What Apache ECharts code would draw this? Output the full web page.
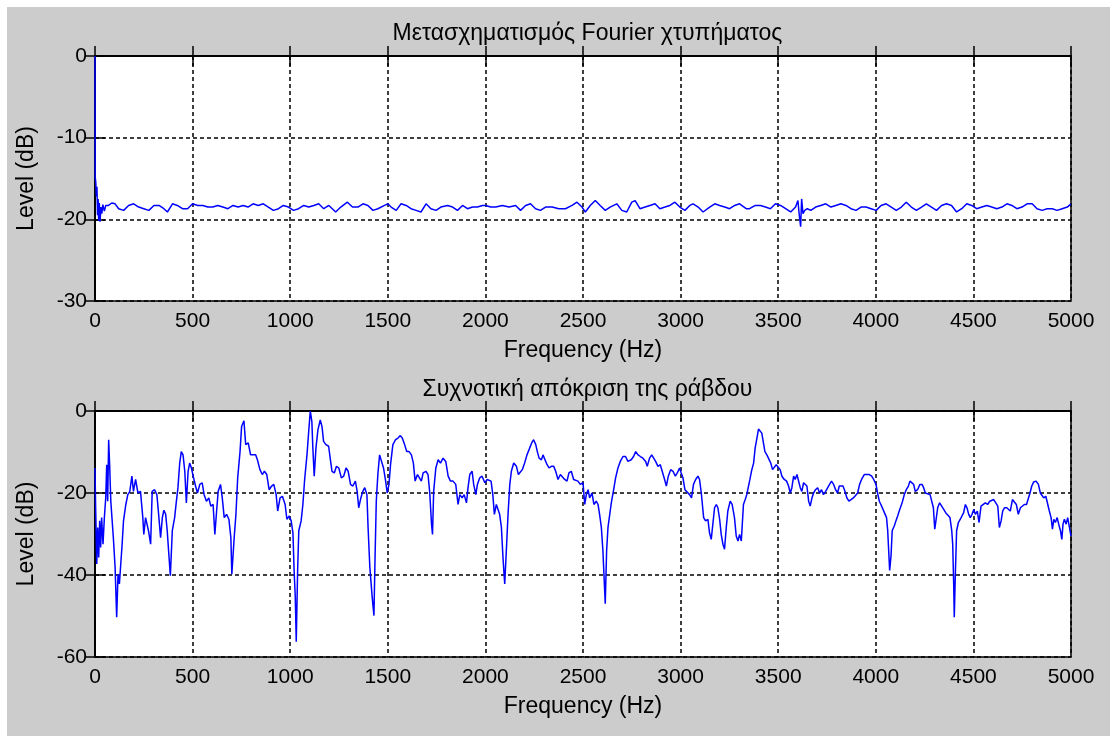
<!DOCTYPE html>
<html>
<head>
<meta charset="utf-8">
<title>Fourier</title>
<script src="https://cdn.jsdelivr.net/npm/echarts@6/dist/echarts.min.js"></script>
<style>
  html, body { margin: 0; padding: 0; background: #fff; }
  #main { position: absolute; left: 7px; top: 7px; width: 1103px; height: 729px; background: #cccccc; }
</style>
</head>
<body>
<div id="main"></div>
<script>
// Μετασχηματισμός Fourier χτυπήματος (πάνω γράφημα)
var topFreq = [
  0, 1, 4, 7, 10, 13, 16, 19, 22, 26,
  30, 35, 40, 48, 55, 69, 86, 103, 121, 147,
  172, 198, 224, 250, 276, 302, 328, 353, 371, 397,
  422, 448, 474, 500, 526, 552, 578, 603, 629, 655,
  681, 707, 733, 759, 784, 810, 836, 862, 888, 914,
  940, 965, 991, 1017, 1043, 1069, 1095, 1121, 1146, 1172,
  1198, 1233, 1259, 1293, 1319, 1347, 1373, 1398, 1424, 1449,
  1483, 1500, 1517, 1543, 1568, 1594, 1619, 1645, 1670, 1696,
  1721, 1747, 1772, 1806, 1832, 1857, 1883, 1908, 1934, 1959,
  1985, 2002, 2027, 2053, 2087, 2121, 2155, 2180, 2206, 2231,
  2257, 2282, 2308, 2342, 2376, 2410, 2444, 2469, 2495, 2512,
  2537, 2563, 2588, 2614, 2639, 2673, 2699, 2724, 2750, 2767,
  2792, 2818, 2843, 2869, 2894, 2920, 2945, 2971, 2996, 3022,
  3047, 3064, 3090, 3115, 3149, 3175, 3200, 3226, 3251, 3277,
  3302, 3336, 3353, 3383, 3409, 3435, 3460, 3486, 3512, 3538,
  3564, 3589, 3601, 3608, 3615, 3620, 3627, 3636, 3649, 3667,
  3692, 3718, 3744, 3770, 3795, 3821, 3847, 3873, 3899, 3924,
  3950, 3976, 4002, 4027, 4053, 4079, 4105, 4131, 4156, 4182,
  4208, 4234, 4259, 4285, 4311, 4337, 4362, 4388, 4414, 4440,
  4466, 4491, 4517, 4543, 4569, 4594, 4620, 4646, 4672, 4697,
  4723, 4749, 4775, 4801, 4826, 4852, 4878, 4904, 4929, 4955,
  4981, 5000
]
var topLevel = [
  0, -14.8, -15.5, -17.2, -16.0, -19.5, -17.5, -20.2, -18.0, -20.3,
  -18.5, -19.3, -18.2, -19.0, -18.3, -18.3, -18.0, -18.1, -18.7, -18.9,
  -18.3, -18.1, -18.5, -18.7, -18.9, -18.3, -18.3, -18.7, -19.1, -18.1,
  -18.3, -18.7, -18.7, -18.1, -18.3, -18.3, -18.5, -18.5, -18.3, -18.5,
  -18.7, -18.3, -18.5, -18.3, -18.5, -18.1, -18.3, -18.1, -18.5, -18.9,
  -18.7, -18.3, -18.5, -18.9, -18.7, -18.3, -18.5, -18.3, -18.1, -18.7,
  -18.3, -19.1, -18.5, -17.9, -18.5, -18.5, -18.1, -18.3, -18.9, -18.7,
  -18.3, -18.1, -18.5, -18.9, -18.1, -18.3, -18.7, -18.9, -19.1, -18.1,
  -18.7, -18.9, -18.5, -18.3, -18.5, -18.9, -18.3, -18.7, -18.5, -18.5,
  -18.3, -18.3, -18.5, -18.5, -18.3, -18.5, -18.3, -18.9, -18.3, -18.1,
  -18.7, -18.9, -18.5, -18.5, -18.7, -18.7, -18.3, -17.9, -18.5, -19.1,
  -18.3, -17.7, -18.3, -18.9, -18.5, -18.1, -18.9, -19.1, -17.9, -17.7,
  -18.7, -18.5, -18.3, -18.1, -18.7, -18.5, -18.3, -17.9, -18.5, -18.9,
  -18.3, -18.1, -18.5, -19.1, -18.5, -18.1, -18.3, -18.5, -18.7, -18.3,
  -18.1, -18.7, -18.7, -18.3, -18.3, -18.5, -18.7, -18.1, -18.3, -18.7,
  -19.1, -18.5, -17.7, -19.5, -20.9, -17.5, -19.3, -18.9, -18.7, -18.9,
  -18.5, -18.3, -18.1, -18.5, -18.3, -18.1, -18.3, -18.7, -18.9, -18.5,
  -18.5, -18.7, -18.9, -18.3, -18.1, -18.5, -18.9, -18.5, -17.9, -18.5,
  -18.9, -18.5, -18.1, -18.5, -18.9, -18.3, -18.1, -18.3, -19.1, -18.7,
  -18.1, -18.3, -18.7, -18.5, -18.3, -18.5, -18.7, -18.5, -18.1, -18.3,
  -18.7, -18.5, -18.1, -18.1, -18.7, -18.9, -18.7, -18.7, -18.9, -18.7,
  -18.5, -18.1
]

// Συχνοτική απόκριση της ράβδου (κάτω γράφημα)
var botFreq = [
  0, 3, 9, 14, 19, 24, 29, 34, 41, 48,
  55, 60, 65, 70, 75, 81, 87, 94, 103, 111,
  118, 125, 132, 139, 146, 158, 168, 178, 189, 197,
  208, 220, 233, 245, 250, 259, 268, 274, 285, 293,
  305, 317, 326, 336, 345, 353, 362, 370, 377, 386,
  396, 408, 417, 425, 434, 442, 451, 460, 468, 477,
  485, 494, 503, 515, 525, 537, 549, 559, 571, 583,
  593, 605, 614, 623, 631, 643, 652, 662, 674, 686,
  696, 701, 713, 722, 731, 743, 751, 763, 772, 785,
  797, 811, 823, 832, 845, 857, 868, 880, 892, 905,
  916, 928, 936, 948, 960, 974, 983, 995, 1005, 1014,
  1020, 1026, 1031, 1038, 1044, 1056, 1065, 1074, 1086, 1096,
  1103, 1111, 1116, 1123, 1132, 1142, 1154, 1163, 1171, 1183,
  1197, 1206, 1214, 1226, 1237, 1249, 1262, 1274, 1286, 1297,
  1309, 1321, 1334, 1343, 1351, 1362, 1372, 1382, 1393, 1399,
  1408, 1420, 1429, 1434, 1441, 1449, 1458, 1468, 1478, 1489,
  1497, 1506, 1514, 1526, 1540, 1552, 1564, 1574, 1586, 1597,
  1609, 1621, 1631, 1640, 1652, 1672, 1681, 1695, 1706, 1715,
  1724, 1729, 1735, 1746, 1758, 1770, 1783, 1797, 1809, 1821,
  1834, 1848, 1860, 1869, 1881, 1891, 1903, 1911, 1920, 1932,
  1940, 1951, 1959, 1971, 1983, 1997, 2009, 2019, 2029, 2038,
  2046, 2056, 2065, 2073, 2082, 2090, 2099, 2108, 2116, 2125,
  2133, 2145, 2159, 2169, 2179, 2189, 2201, 2213, 2227, 2237,
  2247, 2258, 2266, 2275, 2287, 2295, 2305, 2316, 2326, 2338,
  2350, 2360, 2372, 2384, 2394, 2406, 2418, 2428, 2440, 2452,
  2462, 2474, 2486, 2500, 2509, 2517, 2526, 2534, 2546, 2556,
  2568, 2577, 2585, 2594, 2602, 2608, 2614, 2621, 2628, 2637,
  2645, 2657, 2667, 2679, 2691, 2705, 2718, 2730, 2747, 2759,
  2770, 2782, 2794, 2807, 2821, 2829, 2841, 2852, 2862, 2872,
  2884, 2896, 2906, 2918, 2927, 2937, 2949, 2961, 2973, 2983,
  2995, 3003, 3012, 3022, 3032, 3046, 3056, 3066, 3077, 3089,
  3097, 3106, 3118, 3128, 3140, 3148, 3157, 3165, 3174, 3183,
  3191, 3200, 3208, 3217, 3225, 3234, 3242, 3254, 3264, 3276,
  3285, 3294, 3302, 3311, 3322, 3331, 3339, 3346, 3355, 3363,
  3374, 3382, 3391, 3399, 3408, 3416, 3423, 3432, 3442, 3452,
  3462, 3471, 3479, 3490, 3500, 3510, 3519, 3531, 3543, 3553,
  3562, 3570, 3579, 3587, 3596, 3604, 3613, 3621, 3630, 3638,
  3647, 3656, 3664, 3673, 3681, 3691, 3702, 3712, 3722, 3732,
  3743, 3753, 3763, 3773, 3784, 3794, 3804, 3813, 3821, 3832,
  3842, 3852, 3862, 3873, 3885, 3895, 3907, 3917, 3927, 3941,
  3955, 3967, 3979, 3989, 4001, 4009, 4018, 4026, 4037, 4047,
  4055, 4061, 4066, 4071, 4078, 4084, 4095, 4103, 4112, 4120,
  4129, 4137, 4146, 4156, 4167, 4175, 4185, 4194, 4202, 4214,
  4226, 4237, 4245, 4254, 4266, 4278, 4286, 4295, 4302, 4308,
  4317, 4327, 4337, 4348, 4358, 4368, 4380, 4389, 4394, 4399,
  4402, 4408, 4414, 4423, 4433, 4442, 4450, 4459, 4467, 4476,
  4484, 4493, 4502, 4510, 4520, 4529, 4539, 4549, 4561, 4573,
  4584, 4594, 4604, 4614, 4625, 4633, 4642, 4650, 4659, 4671,
  4681, 4689, 4700, 4710, 4720, 4730, 4741, 4751, 4761, 4772,
  4782, 4790, 4799, 4809, 4821, 4833, 4843, 4852, 4860, 4871,
  4881, 4889, 4898, 4905, 4912, 4920, 4929, 4937, 4946, 4953,
  4959, 4966, 4975, 4983, 4992, 5000
]
var botLevel = [
  -13.9, -22.8, -37.3, -28.4, -35.7, -26.8, -33.3, -26.0, -32.5, -26.0,
  -21.2, -13.1, -22.0, -7.0, -13.1, -22.0, -22.0, -30.9, -38.1, -50.3,
  -39.8, -42.2, -37.3, -32.5, -26.8, -22.8, -20.4, -19.7, -15.9, -19.6,
  -16.7, -20.0, -19.6, -26.0, -30.1, -26.0, -26.4, -29.2, -32.5, -19.6,
  -19.2, -20.4, -25.2, -30.9, -26.0, -24.2, -25.2, -29.2, -34.1, -40.2,
  -29.2, -26.0, -22.0, -18.7, -12.7, -9.9, -10.7, -14.7, -22.4, -14.7,
  -12.7, -13.9, -15.9, -18.3, -20.0, -17.9, -17.5, -20.4, -22.0, -21.2,
  -23.2, -22.8, -30.1, -24.4, -19.6, -17.9, -21.2, -26.0, -25.2, -26.4,
  -30.9, -39.8, -30.9, -25.2, -16.3, -9.9, -3.8, -2.4, -8.2, -7.8,
  -10.7, -10.7, -10.7, -11.9, -14.3, -15.5, -14.7, -15.5, -19.2, -18.3,
  -17.9, -20.4, -24.4, -21.2, -20.8, -22.8, -26.4, -25.6, -26.8, -29.7,
  -38.9, -45.4, -56.3, -38.9, -29.2, -26.8, -22.8, -16.7, -10.7, -4.2,
  0, -2.6, -9.0, -15.9, -9.0, -4.6, -2.2, -3.8, -7.4, -8.2,
  -8.6, -11.9, -14.7, -15.1, -13.5, -13.9, -16.3, -15.9, -13.9, -14.7,
  -17.9, -18.3, -17.1, -19.6, -23.6, -21.2, -19.6, -18.7, -20.4, -28.4,
  -38.1, -45.4, -49.9, -37.3, -22.0, -15.5, -10.7, -11.1, -13.9, -17.1,
  -20.0, -17.9, -13.1, -8.2, -7.0, -6.6, -6.0, -6.6, -8.2, -9.9,
  -9.9, -10.7, -12.7, -17.1, -15.5, -17.1, -15.1, -14.7, -15.5, -20.0,
  -27.6, -30.1, -19.6, -13.9, -11.9, -12.7, -11.5, -12.3, -15.9, -17.1,
  -17.1, -17.9, -22.8, -20.4, -21.2, -20.4, -22.4, -18.7, -15.5, -14.7,
  -17.9, -20.4, -17.9, -16.3, -15.9, -17.5, -16.7, -16.3, -17.1, -20.4,
  -25.2, -22.8, -22.4, -25.2, -28.4, -35.7, -42.2, -33.3, -25.2, -17.9,
  -14.7, -12.7, -13.5, -15.5, -15.5, -14.3, -12.7, -10.7, -9.0, -7.8,
  -7.0, -8.2, -9.9, -11.5, -11.9, -10.7, -11.1, -13.1, -13.9, -13.5,
  -13.5, -14.7, -16.7, -15.5, -15.1, -16.7, -17.1, -15.1, -14.7, -16.7,
  -16.3, -17.1, -17.9, -17.5, -22.8, -20.4, -19.2, -21.2, -20.0, -22.8,
  -22.0, -22.8, -25.2, -28.4, -34.1, -40.6, -47.0, -34.1, -28.4, -25.2,
  -22.4, -19.2, -16.3, -13.9, -12.3, -11.1, -11.1, -12.3, -11.9, -11.1,
  -9.9, -10.7, -11.1, -11.5, -12.3, -13.5, -11.5, -10.7, -10.7, -12.3,
  -13.5, -13.1, -13.5, -16.7, -18.3, -15.9, -14.3, -14.7, -15.9, -15.1,
  -13.9, -15.1, -16.3, -19.2, -19.6, -20.4, -21.2, -17.9, -16.7, -15.9,
  -16.7, -20.0, -26.0, -26.8, -26.4, -29.7, -31.3, -31.7, -23.6, -22.8,
  -23.6, -26.4, -30.1, -32.5, -33.7, -28.4, -24.4, -22.0, -22.8, -26.0,
  -30.5, -31.7, -30.1, -31.7, -22.8, -21.6, -20.4, -20.0, -16.7, -14.7,
  -12.7, -9.0, -6.6, -4.4, -4.6, -5.4, -7.4, -9.9, -10.7, -11.1,
  -12.7, -14.3, -13.9, -13.1, -12.7, -14.3, -15.9, -16.7, -17.1, -18.3,
  -20.0, -18.7, -15.9, -16.7, -15.5, -15.9, -18.7, -19.6, -17.5, -17.5,
  -18.3, -22.0, -23.2, -21.2, -20.0, -19.2, -18.7, -20.0, -19.2, -20.4,
  -19.6, -19.2, -17.9, -17.1, -17.9, -19.2, -20.0, -18.3, -17.9, -18.3,
  -19.6, -21.2, -22.0, -21.6, -21.2, -20.8, -20.0, -17.9, -16.7, -15.5,
  -15.5, -15.5, -15.9, -16.7, -17.9, -20.0, -22.0, -22.8, -24.0, -24.0,
  -26.0, -29.2, -34.1, -38.9, -35.3, -29.2, -28.0, -26.8, -25.6, -24.4,
  -23.2, -22.0, -20.4, -19.2, -18.3, -17.1, -16.7, -17.9, -19.6, -19.2,
  -17.9, -17.9, -18.7, -20.0, -20.2, -20.4, -20.8, -23.6, -28.8, -26.8,
  -23.6, -22.4, -22.4, -24.0, -24.8, -25.2, -26.0, -29.2, -32.5, -42.2,
  -50.3, -38.9, -29.2, -27.2, -26.4, -26.8, -24.8, -22.8, -23.6, -25.2,
  -26.0, -25.2, -24.0, -25.2, -24.4, -27.2, -23.2, -22.8, -22.4, -22.8,
  -22.0, -22.4, -21.6, -21.2, -23.2, -28.4, -26.8, -24.4, -23.6, -23.6,
  -23.2, -24.4, -21.6, -21.2, -22.8, -25.2, -23.6, -23.2, -22.8, -22.8,
  -22.4, -20.0, -18.3, -17.3, -17.1, -17.9, -20.0, -20.4, -21.2, -20.8,
  -22.8, -24.4, -26.0, -28.8, -26.4, -27.2, -26.0, -27.6, -29.2, -31.3,
  -27.6, -26.4, -27.6, -26.0, -25.6, -30.5
]

var titles = ['Μετασχηματισμός Fourier χτυπήματος', 'Συχνοτική απόκριση της ράβδου']
var xName = 'Frequency (Hz)'
var yName = 'Level (dB)'

var FONT = '"Liberation Sans", Arial, Helvetica, sans-serif'
var txt = { fontFamily: FONT, fontSize: 23, color: '#000' }
var tickTxt = { fontFamily: FONT, fontSize: 21, color: '#000' }

// ζεύγη [συχνότητα, στάθμη]
function pairs(fs, ls) {
  var out = []
  for (var i = 0; i < fs.length; i++) out.push([fs[i], ls[i]])
  return out
}

var blackLine = { show: true, lineStyle: { color: '#000', width: 1.5 } }
var inTick = { show: true, inside: true, length: 10, lineStyle: { color: '#000', width: 1.5 } }
var gridDash = { show: true, lineStyle: { color: '#000', width: 1.5, type: [4, 3] } }

function xAxes(gi) {
  return [
    {
      type: 'value', gridIndex: gi, min: 0, max: 5000, interval: 500, position: 'bottom',
      name: xName, nameLocation: 'middle', nameGap: 38, nameTextStyle: txt,
      axisLine: blackLine, axisTick: inTick,
      axisLabel: Object.assign({ margin: 10, formatter: function (v) { return String(v) } }, tickTxt),
      splitLine: gridDash
    },
    {
      type: 'value', gridIndex: gi, min: 0, max: 5000, interval: 500, position: 'top',
      axisLine: blackLine, axisTick: inTick, axisLabel: { show: false }, splitLine: { show: false }
    }
  ]
}

function yAxes(gi, min, step) {
  return [
    {
      type: 'value', gridIndex: gi, min: min, max: 0, interval: step, position: 'left',
      name: yName, nameLocation: 'middle', nameGap: 57, nameTextStyle: txt,
      axisLine: blackLine, axisTick: inTick,
      axisLabel: Object.assign({ margin: 8 }, tickTxt),
      splitLine: gridDash
    },
    {
      type: 'value', gridIndex: gi, min: min, max: 0, interval: step, position: 'right',
      axisLine: blackLine, axisTick: inTick, axisLabel: { show: false }, splitLine: { show: false }
    }
  ]
}

var chart = echarts.init(document.getElementById('main'), null, { renderer: 'canvas' })

var option = {
  animation: false,
  backgroundColor: '#cccccc',
  textStyle: { fontFamily: FONT },
  title: [
    { text: titles[0], left: 575.5, top: 10, textAlign: 'center', textStyle: Object.assign({ fontWeight: 'normal' }, txt) },
    { text: titles[1], left: 575.5, top: 366, textAlign: 'center', textStyle: Object.assign({ fontWeight: 'normal' }, txt) }
  ],
  grid: [
    { left: 87, top: 49, width: 977, height: 245, show: true, backgroundColor: '#fff', borderColor: '#000', borderWidth: 1.5 },
    { left: 87, top: 404, width: 977, height: 246, show: true, backgroundColor: '#fff', borderColor: '#000', borderWidth: 1.5 }
  ],
  xAxis: xAxes(0).concat(xAxes(1)),
  yAxis: yAxes(0, -30, 10).concat(yAxes(1, -60, 20)),
  series: [
    {
      type: 'line', xAxisIndex: 0, yAxisIndex: 0, showSymbol: false, symbol: 'none',
      lineStyle: { color: '#0000ff', width: 1.5 }, data: pairs(topFreq, topLevel)
    },
    {
      type: 'line', xAxisIndex: 2, yAxisIndex: 2, showSymbol: false, symbol: 'none',
      lineStyle: { color: '#0000ff', width: 1.5 }, data: pairs(botFreq, botLevel)
    }
  ]
}

chart.setOption(option)
</script>
</body>
</html>
